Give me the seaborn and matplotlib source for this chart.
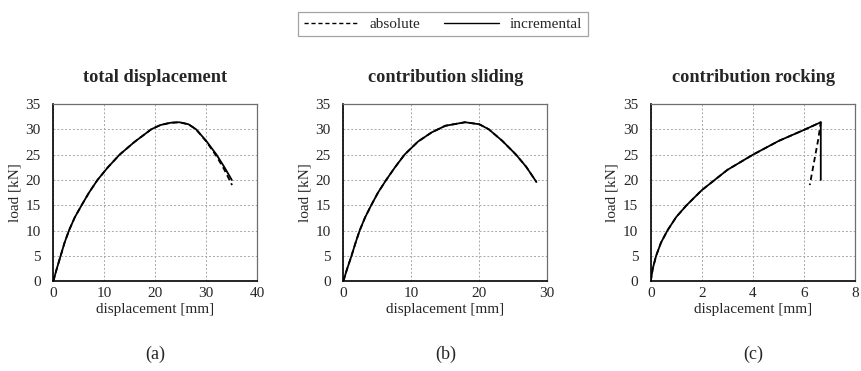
import numpy as np
import pandas as pd
import matplotlib
matplotlib.use("Agg")
import matplotlib.pyplot as plt
import seaborn as sns
from matplotlib.lines import Line2D

# --- data: load [kN] versus displacement [mm] ---
# (a) total displacement
tot_inc_x = [0, 0.6, 1.43, 2.2, 3.06, 4.2, 5.54, 7.0, 8.66, 10.7, 13.0, 15.9, 19.2, 21.0, 23.0, 24.7, 26.5, 28.0, 30.0, 32.0, 33.5, 35.0]
tot_inc_y = [0, 2.2, 5.0, 7.6, 10.0, 12.6, 15.0, 17.5, 20.0, 22.5, 25.0, 27.5, 30.0, 30.85, 31.3, 31.4, 31.0, 30.0, 27.7, 25.0, 22.6, 20.0]
tot_abs_x = [0, 0.6, 1.43, 2.2, 3.06, 4.2, 5.54, 7.0, 8.66, 10.7, 13.0, 15.9, 19.2, 21.0, 23.0, 24.7, 26.5, 28.0, 30.0, 32.0, 33.5, 35.05]
tot_abs_y = [0, 2.2, 5.0, 7.6, 10.0, 12.6, 15.0, 17.5, 20.0, 22.5, 25.0, 27.5, 30.0, 30.85, 31.3, 31.4, 31.0, 30.0, 27.6, 24.7, 22.1, 19.0]

# (b) contribution sliding
sld_x = [0, 0.5, 1.2, 1.8, 2.4, 3.2, 4.1, 5.1, 6.3, 7.6, 9.0, 11.0, 13.0, 15.0, 17.9, 20.0, 21.4, 23.4, 25.4, 26.9, 28.4]
sld_y = [0, 2.2, 5.0, 7.6, 10.0, 12.6, 15.0, 17.5, 20.0, 22.5, 25.0, 27.6, 29.4, 30.7, 31.4, 31.0, 30.0, 27.7, 25.0, 22.6, 19.6]

# (c) contribution rocking
rck_inc_x = [0, 0.08, 0.21, 0.4, 0.65, 1.0, 1.4, 2.0, 2.5, 3.0, 4.0, 5.0, 6.0, 6.65, 6.65]
rck_inc_y = [0, 2.5, 5.0, 7.6, 10.0, 12.7, 15.0, 18.0, 20.0, 22.0, 25.0, 27.7, 29.9, 31.4, 20.0]
rck_abs_x = [0, 0.08, 0.21, 0.4, 0.65, 1.0, 1.4, 2.0, 2.5, 3.0, 4.0, 5.0, 6.0, 6.65, 6.55, 6.22]
rck_abs_y = [0, 2.5, 5.0, 7.6, 10.0, 12.7, 15.0, 18.0, 20.0, 22.0, 25.0, 27.7, 29.9, 31.4, 28.0, 19.0]

titles = ["total displacement", "contribution sliding", "contribution rocking"]
panel_tags = ["(a)", "(b)", "(c)"]
x_limits = [40, 30, 8]
x_steps = [10, 10, 2]


def frame(x, y, method):
    return pd.DataFrame({"displacement": x, "load": y, "method": method})


panels = [
    pd.concat([frame(tot_abs_x, tot_abs_y, "absolute"), frame(tot_inc_x, tot_inc_y, "incremental")]),
    pd.concat([frame(sld_x, sld_y, "absolute"), frame(sld_x, sld_y, "incremental")]),
    pd.concat([frame(rck_abs_x, rck_abs_y, "absolute"), frame(rck_inc_x, rck_inc_y, "incremental")]),
]

sns.set_style("white")
plt.rcParams["font.family"] = ["Liberation Serif", "DejaVu Serif"]

W, H = 861, 371
fig = plt.figure(figsize=(W / 100, H / 100), dpi=100)

# axes boxes in pixels: (left, top, width, height)
boxes = [(53.3, 104, 204.0, 177.3), (343.3, 104, 204.0, 177.3), (650.7, 104, 204.6, 177.3)]

for i, (df, box) in enumerate(zip(panels, boxes)):
    l, t, w, h = box
    ax = fig.add_axes([l / W, (H - t - h) / H, w / W, h / H])
    sns.lineplot(data=df, x="displacement", y="load", style="method",
                 style_order=["incremental", "absolute"], dashes={"incremental": "", "absolute": (3, 2)},
                 color="black", linewidth=1.3, sort=False, estimator=None, legend=False, ax=ax)
    ax.set_xlim(0, x_limits[i])
    ax.set_ylim(0, 35)
    ax.set_xticks(np.arange(0, x_limits[i] + 0.01, x_steps[i]))
    ax.set_yticks(np.arange(0, 35.01, 5))
    ax.grid(True, color="#a8a8a8", linestyle=(0, (2, 2)), linewidth=0.7)
    ax.set_axisbelow(True)
    for s in ["left", "bottom"]:
        ax.spines[s].set_color("black")
        ax.spines[s].set_linewidth(1.2)
    for s in ["top", "right"]:
        ax.spines[s].set_color("#6e6e6e")
        ax.spines[s].set_linewidth(0.9)
    ax.tick_params(axis="y", labelsize=11, length=0, pad=9)
    ax.tick_params(axis="x", labelsize=11, length=0, pad=4)
    ax.set_xlabel("displacement [mm]", fontsize=11, labelpad=2)
    ax.set_ylabel("load [kN]", fontsize=11, labelpad=3)
    ax.set_title(titles[i], fontsize=13.2, fontweight="bold", pad=16)
    fig.text((l + w / 2) / W, 1 - 354 / H, panel_tags[i], ha="center", va="center", fontsize=13)

handles = [Line2D([], [], color="black", linestyle=(0, (3, 2)), linewidth=1.0),
           Line2D([], [], color="black", linestyle="-", linewidth=1.0)]
leg = fig.legend(handles, ["absolute", "incremental"], loc="center", ncol=2,
                 bbox_to_anchor=(443 / W, 1 - 24 / H), frameon=True, fancybox=False,
                 edgecolor="#8c8c8c", fontsize=11, handlelength=3.6, columnspacing=1.6,
                 borderpad=0.35, handletextpad=0.7)
leg.get_frame().set_linewidth(0.9)

fig.savefig("out.png", dpi=100)
